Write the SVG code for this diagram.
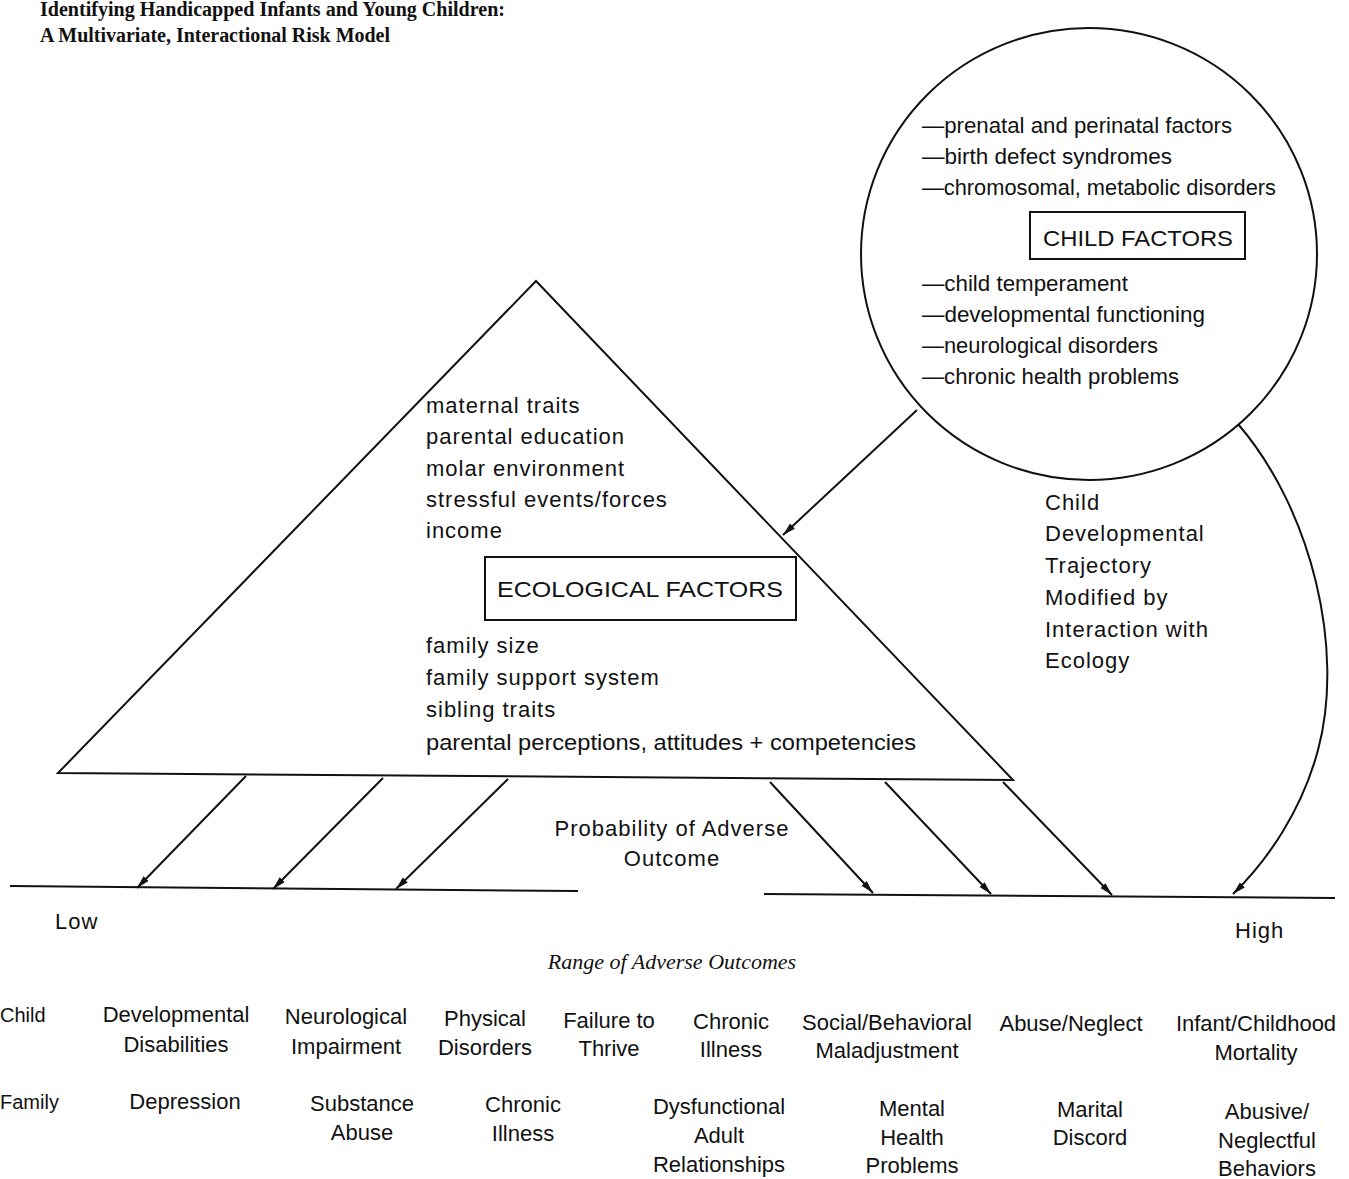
<svg xmlns="http://www.w3.org/2000/svg" width="1349" height="1179" viewBox="0 0 1349 1179">
<defs>
<style>
.t{font-family:"Liberation Sans",Arial,sans-serif;font-size:22px;fill:#111}
.w{letter-spacing:1px}
.c{text-anchor:middle}
.title{font-family:"Liberation Serif","Times New Roman",serif;font-size:20px;font-weight:bold;fill:#111}
.ln{fill:none;stroke:#111;stroke-width:2}
.ar{fill:none;stroke:#111;stroke-width:2;marker-end:url(#ah)}
.box{fill:#fff;stroke:#111;stroke-width:2}
.it{font-family:"Liberation Serif","Times New Roman",serif;font-style:italic;font-size:22px;fill:#111;text-anchor:middle}
</style>
<marker id="ah" markerUnits="userSpaceOnUse" markerWidth="14" markerHeight="10" refX="13" refY="5" orient="auto">
<path d="M0,1.5 L13,5 L0,8.5 Z" fill="#111"/>
</marker>
</defs>
<rect width="1349" height="1179" fill="#fff"/>
<g id="title">
<text class="title" x="40" y="16" textLength="465" lengthAdjust="spacingAndGlyphs">Identifying Handicapped Infants and Young Children:</text>
<text class="title" x="40" y="42" textLength="350" lengthAdjust="spacingAndGlyphs">A Multivariate, Interactional Risk Model</text>
</g>
<g id="child-factors">
<ellipse class="ln" cx="1089" cy="254" rx="228" ry="226"/>
<text class="t" x="922" y="133" textLength="310" lengthAdjust="spacingAndGlyphs">—prenatal and perinatal factors</text>
<text class="t" x="922" y="164" textLength="250" lengthAdjust="spacingAndGlyphs">—birth defect syndromes</text>
<text class="t" x="922" y="195" textLength="354" lengthAdjust="spacingAndGlyphs">—chromosomal, metabolic disorders</text>
<rect class="box" x="1030" y="212" width="215" height="47"/>
<text class="t" x="1043" y="246" textLength="190" lengthAdjust="spacingAndGlyphs">CHILD FACTORS</text>
<text class="t" x="922" y="291" textLength="206" lengthAdjust="spacingAndGlyphs">—child temperament</text>
<text class="t" x="922" y="322" textLength="283" lengthAdjust="spacingAndGlyphs">—developmental functioning</text>
<text class="t" x="922" y="353" textLength="236" lengthAdjust="spacingAndGlyphs">—neurological disorders</text>
<text class="t" x="922" y="384" textLength="257" lengthAdjust="spacingAndGlyphs">—chronic health problems</text>
</g>
<g id="ecological-factors">
<polygon class="ln" points="536,281 58,773 1013,780"/>
<text class="t w" x="426" y="413">maternal traits</text>
<text class="t w" x="426" y="444">parental education</text>
<text class="t w" x="426" y="476">molar environment</text>
<text class="t w" x="426" y="507">stressful events/forces</text>
<text class="t w" x="426" y="538">income</text>
<rect class="box" x="485" y="557" width="311" height="63"/>
<text class="t" x="497" y="597" textLength="286" lengthAdjust="spacingAndGlyphs">ECOLOGICAL FACTORS</text>
<text class="t w" x="426" y="653">family size</text>
<text class="t w" x="426" y="685">family support system</text>
<text class="t w" x="426" y="717">sibling traits</text>
<text class="t" x="426" y="750" textLength="490" lengthAdjust="spacingAndGlyphs">parental perceptions, attitudes + competencies</text>
</g>
<g id="trajectory-label">
<text class="t w" x="1045" y="510">Child</text>
<text class="t w" x="1045" y="541">Developmental</text>
<text class="t w" x="1045" y="573">Trajectory</text>
<text class="t w" x="1045" y="605">Modified by</text>
<text class="t w" x="1045" y="637">Interaction with</text>
<text class="t w" x="1045" y="668">Ecology</text>
</g>
<g id="scale">
<path class="ln" d="M10,886 L578,891"/>
<path class="ln" d="M764,894 L1335,898"/>
<text class="t w c" x="672" y="836">Probability of Adverse</text>
<text class="t w c" x="672" y="866">Outcome</text>
<text class="t w" x="55" y="929">Low</text>
<text class="t w" x="1235" y="938">High</text>
<text class="it" x="672" y="969">Range of Adverse Outcomes</text>
</g>
<g id="connectors">
<path class="ar" d="M917,410 L783,535"/>
<path class="ar" d="M246,776 L137,888"/>
<path class="ar" d="M383,778 L273,889"/>
<path class="ar" d="M508,779 L396,889"/>
<path class="ar" d="M770,782 L873,893"/>
<path class="ar" d="M885,782 L991,894"/>
<path class="ar" d="M1003,782 L1112,895"/>
<path class="ar" d="M1238,424 C1312,510 1345,650 1318,750 C1302,810 1268,860 1233,894"/>
</g>
<g id="child-outcomes">
<text class="t" x="0" y="1022" style="font-size:20px">Child</text>
<text class="t c" x="176" y="1022">Developmental</text>
<text class="t c" x="176" y="1052">Disabilities</text>
<text class="t c" x="346" y="1024">Neurological</text>
<text class="t c" x="346" y="1054">Impairment</text>
<text class="t c" x="485" y="1026">Physical</text>
<text class="t c" x="485" y="1055">Disorders</text>
<text class="t c" x="609" y="1028">Failure to</text>
<text class="t c" x="609" y="1056">Thrive</text>
<text class="t c" x="731" y="1029">Chronic</text>
<text class="t c" x="731" y="1057">Illness</text>
<text class="t c" x="887" y="1030">Social/Behavioral</text>
<text class="t c" x="887" y="1058">Maladjustment</text>
<text class="t c" x="1071" y="1031">Abuse/Neglect</text>
<text class="t c" x="1256" y="1031">Infant/Childhood</text>
<text class="t c" x="1256" y="1060">Mortality</text>
</g>
<g id="family-outcomes">
<text class="t" x="0" y="1109" style="font-size:20px">Family</text>
<text class="t c" x="185" y="1109">Depression</text>
<text class="t c" x="362" y="1111">Substance</text>
<text class="t c" x="362" y="1140">Abuse</text>
<text class="t c" x="523" y="1112">Chronic</text>
<text class="t c" x="523" y="1141">Illness</text>
<text class="t c" x="719" y="1114">Dysfunctional</text>
<text class="t c" x="719" y="1143">Adult</text>
<text class="t c" x="719" y="1172">Relationships</text>
<text class="t c" x="912" y="1116">Mental</text>
<text class="t c" x="912" y="1145">Health</text>
<text class="t c" x="912" y="1173">Problems</text>
<text class="t c" x="1090" y="1117">Marital</text>
<text class="t c" x="1090" y="1145">Discord</text>
<text class="t c" x="1267" y="1119">Abusive/</text>
<text class="t c" x="1267" y="1148">Neglectful</text>
<text class="t c" x="1267" y="1176">Behaviors</text>
</g>
</svg>
